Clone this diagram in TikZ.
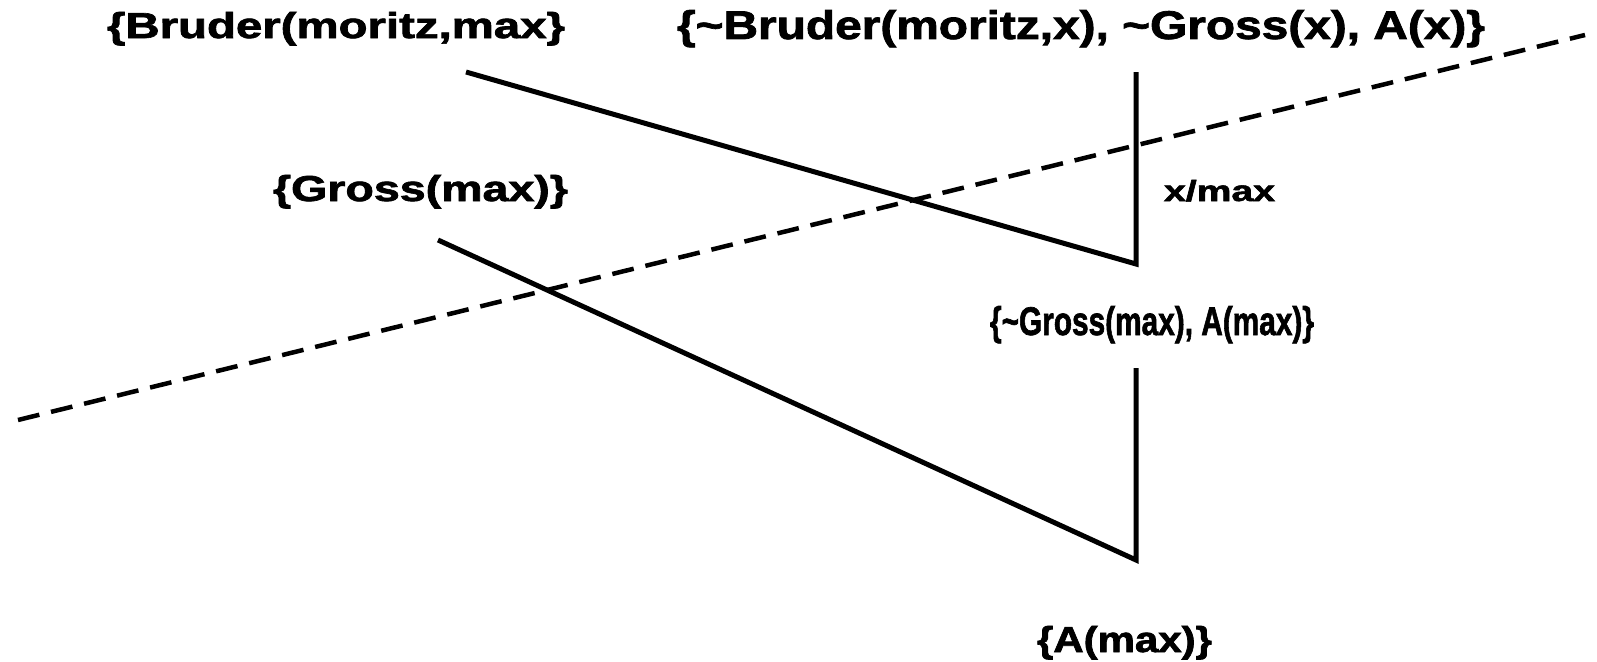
\documentclass[tikz,border=0pt]{standalone}
\usepackage{fontspec}
\setmainfont[BoldFeatures={FakeBold=1.8}]{Liberation Sans}
\usepackage{graphicx}
\tikzset{
  lbl/.style={anchor=base west, inner sep=0pt, outer sep=0pt, font=\bfseries\fontsize{36}{42}\selectfont},
  talllbl/.style={anchor=base west, inner sep=0pt, outer sep=0pt, font=\bfseries\fontsize{40}{46}\selectfont},
  smalllbl/.style={anchor=base west, inner sep=0pt, outer sep=0pt, font=\bfseries\fontsize{29}{34}\selectfont},
  link/.style={line width=5pt, line join=miter, line cap=butt},
  cutline/.style={line width=4.5pt, dash pattern=on 22pt off 12pt}
}
\newcommand{\wbox}[2]{\resizebox{#1}{\height}{#2}}
\begin{document}
\begin{tikzpicture}[x=1pt,y=1pt]
\useasboundingbox (0,0) rectangle (1597,-661);
\node[lbl] (bm) at (107,-38) {\wbox{458pt}{\{Bruder(moritz,max\}}};
\node[talllbl] (cl) at (677,-39) {\wbox{808pt}{\{\textasciitilde Bruder(moritz,x), \textasciitilde Gross(x), A(x)\}}};
\node[lbl] (gm) at (273,-201) {\wbox{295pt}{\{Gross(max)\}}};
\node[smalllbl] (sub) at (1164,-201) {\wbox{111pt}{x/max}};
\node[talllbl] (r1) at (990,-335) {\wbox{324pt}{\{\textasciitilde Gross(max), A(max)\}}};
\node[lbl] (r2) at (1037,-652) {\wbox{175pt}{\{A(max)\}}};
\coordinate (bmend) at (466,-72);
\coordinate (clend) at (1136,-72);
\coordinate (v1) at (1136,-264);
\coordinate (gmend) at (438,-240);
\coordinate (r1end) at (1136,-368);
\coordinate (v2) at (1136,-560);
\coordinate (dl) at (18,-420);
\coordinate (dr) at (1585,-35);
\draw[link] (bmend) -- (v1) -- (clend);
\draw[link] (gmend) -- (v2) -- (r1end);
\draw[cutline] (dl) -- (dr);
\end{tikzpicture}
\end{document}
